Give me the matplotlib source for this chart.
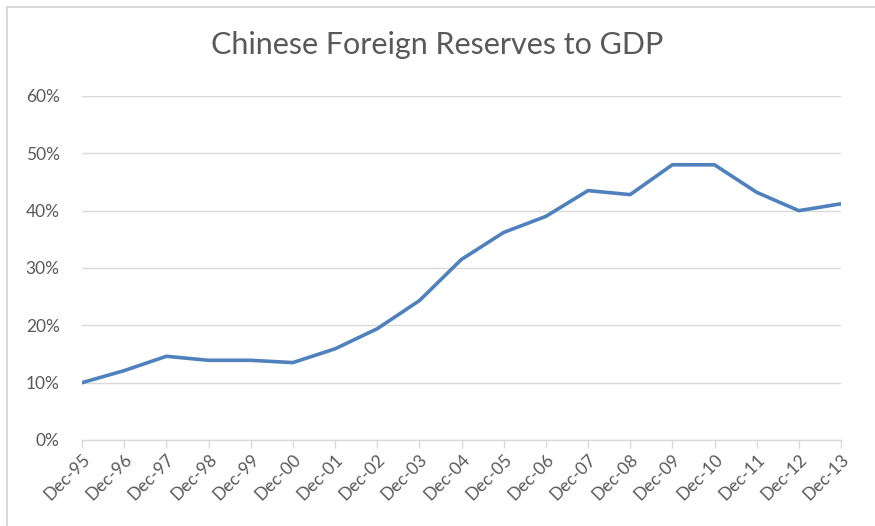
#!/usr/bin/env python3

import matplotlib
matplotlib.use("Agg")
import matplotlib.pyplot as plt
from matplotlib.lines import Line2D
from matplotlib.ticker import PercentFormatter

labels = ["Dec-95", "Dec-96", "Dec-97", "Dec-98", "Dec-99", "Dec-00", "Dec-01",
          "Dec-02", "Dec-03", "Dec-04", "Dec-05", "Dec-06", "Dec-07", "Dec-08",
          "Dec-09", "Dec-10", "Dec-11", "Dec-12", "Dec-13"]
reserves = [0.100, 0.121, 0.146, 0.139, 0.139, 0.135, 0.159,
            0.194, 0.243, 0.315, 0.362, 0.390, 0.435, 0.428,
            0.480, 0.480, 0.432, 0.400, 0.412]

plt.rcParams['font.family'] = ['Lato', 'DejaVu Sans']
grey = "#595959"

fig = plt.figure(figsize=(8.75, 5.26), dpi=100)
# chart frame: only left and top edges are inside the picture
fl, ft = 6.5/875, 1 - 6.5/526
fig.lines.append(Line2D([fl, fl], [0, ft], transform=fig.transFigure,
                        color="#d9d9d9", linewidth=1.5))
fig.lines.append(Line2D([fl, 1], [ft, ft], transform=fig.transFigure,
                        color="#d9d9d9", linewidth=1.5))

ax = fig.add_axes([82/875, 1 - 440/526, (841-82)/875, (440-96)/526])

x = list(range(len(labels)))
ax.plot(x, reserves, color="#4f81bd", linewidth=2.6, solid_joinstyle="round")

ax.set_xlim(0, len(labels) - 1)
ax.set_ylim(0, 0.6)
ax.set_yticks([0, 0.1, 0.2, 0.3, 0.4, 0.5, 0.6])
ax.yaxis.set_major_formatter(PercentFormatter(1.0, decimals=0))
ax.set_xticks(x)
ax.set_xticklabels(labels, rotation=45, ha="right", rotation_mode="anchor")

ax.grid(axis="y", color="#d9d9d9", linewidth=1)
ax.set_axisbelow(True)
for s in ["top", "right", "left"]:
    ax.spines[s].set_visible(False)
ax.spines["bottom"].set_color("#d9d9d9")
ax.spines["bottom"].set_linewidth(1)
ax.tick_params(axis="x", colors="#d9d9d9", labelcolor=grey, labelsize=12.5,
               length=6, width=1, pad=2)
ax.tick_params(axis="y", length=0, labelcolor=grey, labelsize=12.5, pad=16)

fig.text(0.5, 1 - 45/526, "Chinese Foreign Reserves to GDP", ha="center",
         va="center", fontsize=22, color=grey)

fig.savefig("out.png", dpi=100)
